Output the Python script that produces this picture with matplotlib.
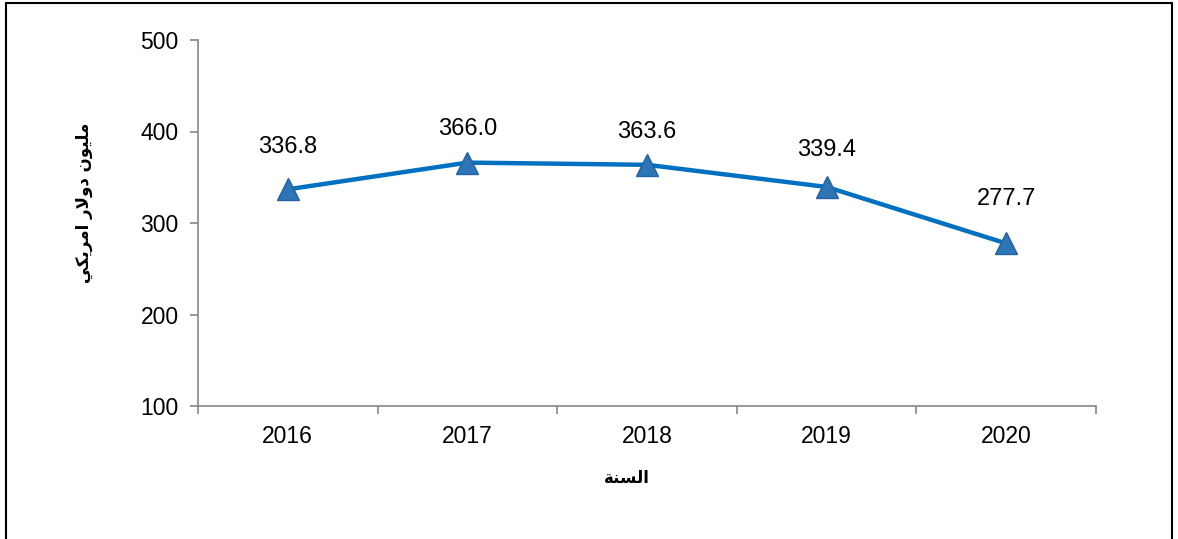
import matplotlib
matplotlib.use("Agg")
import matplotlib.pyplot as plt
from matplotlib.patches import Rectangle

years = ["2016", "2017", "2018", "2019", "2020"]
values = [336.8, 366.0, 363.6, 339.4, 277.7]
yticks = [100, 200, 300, 400, 500]
# vertical gap (pixels) of each data label above its point, as placed in the reference
label_gap_px = [42.5, 33.5, 33, 37, 44]

# Arabic text in visual (pre-shaped) order using presentation forms
ylabel_txt = "\uFEF2\uFEDC\uFEF3\uFEAE\uFEE3\uFE8D \uFEAD\uFEFB\uFEED\uFEA9 \uFEE5\uFEEE\uFEF4\uFEE0\uFEE3"
xlabel_txt = "\uFE94\uFEE8\uFEB4\uFEDF\uFE8D"

plt.rcParams['font.family'] = ['Liberation Sans', 'DejaVu Sans']

fig = plt.figure(figsize=(11.78, 5.39), dpi=100)
ax = fig.add_axes([198/1178, 1-406/539, (1096-198)/1178, (406-40)/539])

x = list(range(len(years)))
ax.plot(x, values, color="#0070C0", linewidth=3.2, marker="^", markersize=15.5,
        markerfacecolor="#2E75B6", markeredgecolor="#2463A0", markeredgewidth=1, zorder=3)
for xi, v, g in zip(x, values, label_gap_px):
    ax.annotate(f"{v:.1f}", (xi, v), xytext=(0, g * 0.72), textcoords="offset points",
                ha="center", va="center", fontsize=17, color="black")

ax.set_xlim(-0.5, len(years) - 0.5)
ax.set_ylim(100, 500)
ax.set_yticks(yticks)
ax.set_yticklabels([str(t) for t in yticks], fontsize=16.5)
ax.set_xticks(x)
ax.set_xticklabels(years, fontsize=16.5)
ax.tick_params(axis='x', length=0, pad=14)
ax.set_xticks([i - 0.5 for i in range(len(years) + 1)], minor=True)
ax.tick_params(axis='x', which='minor', length=6, direction='out', color='#868686', width=1.2)
ax.tick_params(axis='y', length=6, direction='out', color='#868686', width=1.2, pad=8)

for s in ["top", "right"]:
    ax.spines[s].set_visible(False)
for s in ["left", "bottom"]:
    ax.spines[s].set_color('#868686')
    ax.spines[s].set_linewidth(1.2)

fig.text(84/1178, 1-203/539, ylabel_txt, rotation=90, ha="center", va="center",
         fontsize=12, fontweight="bold", family=['DejaVu Sans'])
fig.text(627/1178, 1-478/539, xlabel_txt, ha="center", va="center",
         fontsize=12, fontweight="bold", family=['DejaVu Sans'])

fig.patches.append(Rectangle((6/1178, -0.1), (1172-6)/1178, 1.1 - 3/539,
                             transform=fig.transFigure, fill=False, edgecolor="black",
                             linewidth=1.5, figure=fig))

fig.savefig("out.png", dpi=100)
